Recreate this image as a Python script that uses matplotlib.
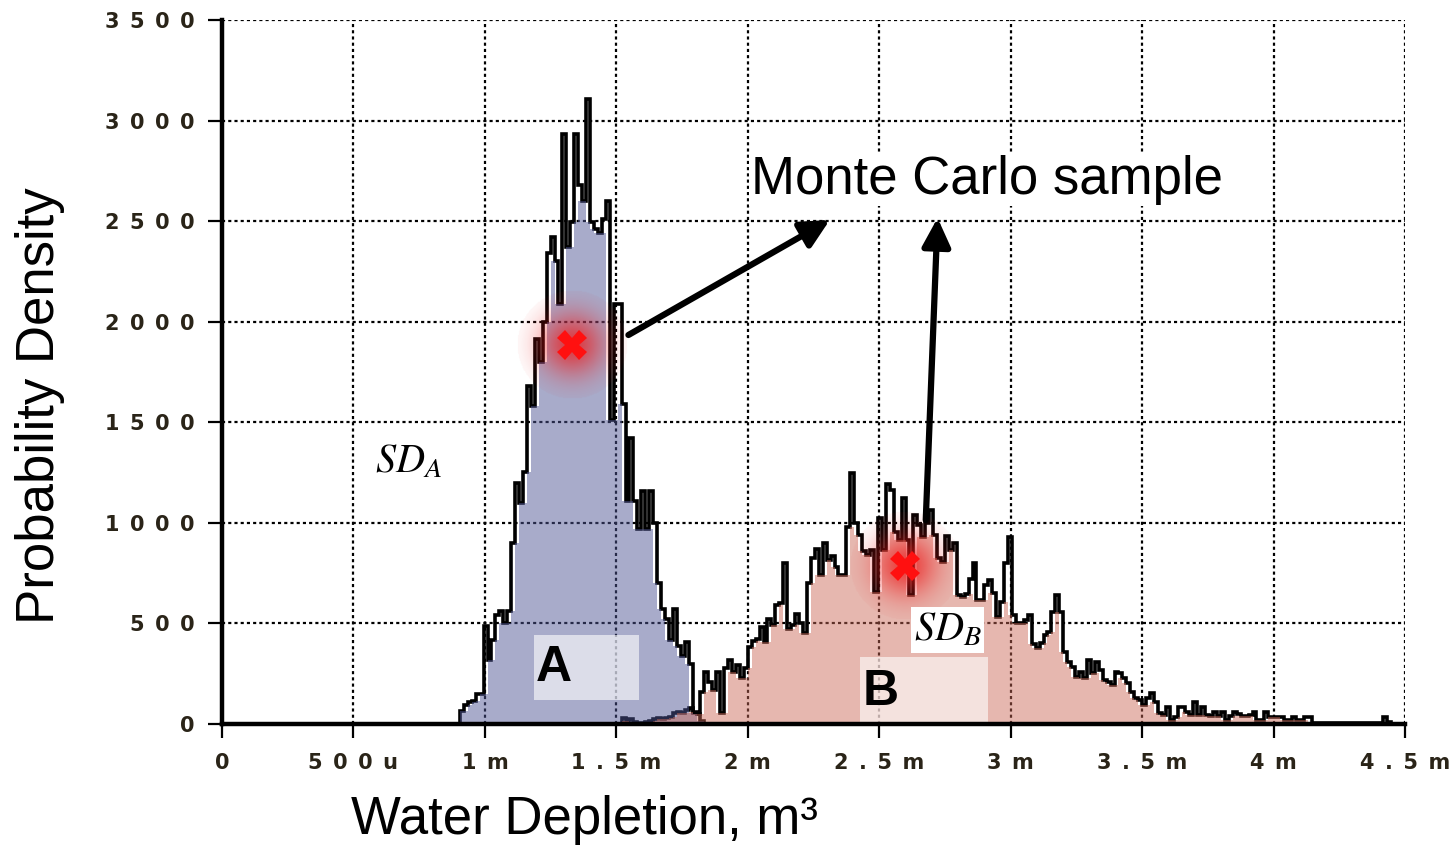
import numpy as np
import matplotlib
matplotlib.use("Agg")
import matplotlib.pyplot as plt

# ---------------------------------------------------------------
# Monte Carlo histograms of water depletion (m^3) for scenarios A and B
# ---------------------------------------------------------------
bin_width = 0.015e-3          # m^3
a_start = 0.905e-3            # first bin edge of scenario A
b_start = 1.520e-3            # first bin edge of scenario B

a_density = [
    65, 95, 110, 115, 150, 150, 485, 320, 420, 540,
    560, 500, 560, 900, 1200, 1100, 1255, 1680, 1580, 1915,
    1800, 2000, 2340, 2420, 2300, 2090, 2935, 2370, 2495, 2935,
    2680, 2600, 3105, 2495, 2460, 2440, 2510, 2600, 1510, 2090,
    2090, 1590, 1110, 1420, 1110, 970, 1160, 970, 1160, 1000,
    700, 570, 520, 420, 570, 390, 340, 410, 300, 55,
    50, 15,
]

b_density = [
    30, 15, 25, 10, 5, 5, 10, 15, 25, 30,
    25, 30, 35, 55, 60, 55, 70, 80, 60, 50,
    160, 260, 210, 170, 260, 53, 277, 318, 260, 293,
    227, 277, 384, 415, 425, 480, 410, 520, 492, 590,
    600, 800, 470, 490, 547, 500, 450, 700, 823, 868,
    740, 898, 815, 835, 782, 740, 740, 980, 1246, 1000,
    940, 860, 840, 865, 658, 1022, 865, 1193, 1163, 956,
    915, 1122, 915, 640, 1039, 989, 930, 1000, 1064, 940,
    823, 807, 935, 865, 898, 641, 633, 645, 720, 799,
    616, 616, 690, 716, 650, 534, 608, 799, 930, 542,
    500, 500, 517, 542, 400, 376, 401, 442, 459, 558,
    641, 558, 360, 310, 285, 235, 260, 227, 318, 255,
    310, 268, 219, 210, 194, 260, 252, 230, 205, 161,
    128, 119, 94, 128, 156, 111, 53, 45, 86, 20,
    36, 86, 86, 61, 45, 111, 45, 86, 45, 40,
    61, 40, 61, 20, 40, 61, 50, 40, 40, 45,
    61, 20, 20, 61, 36, 36, 36, 36, 20, 20,
    36, 20, 20, 36, 36, 4, 4, 4, 4, 4,
    4, 4, 4, 4, 4, 4, 4, 4, 4, 4,
    4, 4, 4, 36, 8,
]

# highlighted Monte Carlo samples (depletion, density)
sample_x = [1.332e-3, 2.597e-3]
sample_y = [1885, 786]

x_ticks = [0, 0.5e-3, 1.0e-3, 1.5e-3, 2.0e-3, 2.5e-3, 3.0e-3, 3.5e-3, 4.0e-3, 4.5e-3]
x_tick_labels = ["0", "500u", "1m", "1.5m", "2m", "2.5m", "3m", "3.5m", "4m", "4.5m"]
y_ticks = [0, 500, 1000, 1500, 2000, 2500, 3000, 3500]

# ---------------------------------------------------------------
plt.rcParams["mathtext.fontset"] = "stix"

fig = plt.figure(figsize=(14.54, 8.48), dpi=100)
ax = fig.add_axes([222 / 1454, 1 - 724 / 848, (1405 - 222) / 1454, (724 - 20) / 848])


def edges(start, values):
    return start + bin_width * np.arange(len(values) + 1)


def lower_envelope(values):
    v = np.asarray(values, float)
    p = np.pad(v, 1, mode="edge")
    return np.minimum(np.minimum(p[:-2], p[1:-1]), p[2:])


hists = [
    (a_start, a_density, "#4e5594", 0.49),
    (b_start, b_density, "#ca6756", 0.47),
]
for start, dens, col, alpha in hists:
    e = edges(start, dens)
    ax.stairs(dens, e, color="black", lw=2.6, baseline=0, zorder=2)
for start, dens, col, alpha in hists:
    e = edges(start, dens)
    ax.stairs(lower_envelope(dens), e, fill=True, color=col, alpha=alpha,
              lw=0, zorder=3)


# red halo around the highlighted samples
def halo(x, y, rx, ry):
    n = 121
    g = np.linspace(-1, 1, n)
    X, Y = np.meshgrid(g, g)
    r2 = X ** 2 + Y ** 2
    img = np.zeros((n, n, 4))
    img[..., 0] = 0.93
    img[..., 1] = 0.10
    img[..., 2] = 0.10
    img[..., 3] = 0.75 * np.exp(-r2 / 0.33) * (r2 < 1)
    ax.imshow(img, extent=(x - rx, x + rx, y - ry, y + ry), aspect="auto",
              interpolation="bilinear", zorder=5)


for sx, sy in zip(sample_x, sample_y):
    halo(sx, sy, 0.21e-3, 270)
ax.plot(sample_x, sample_y, "X", color="#ff1010", ms=21, mew=0, zorder=7)

# scenario labels
ax.add_patch(plt.Rectangle((1.187e-3, 119), 0.399e-3, 324, fc="white",
                           alpha=0.6, ec="none", zorder=4))
ax.text(1.195e-3, 280, "A", fontsize=36, fontweight="bold",
        family="Liberation Sans", ha="left", va="center", zorder=5)
ax.add_patch(plt.Rectangle((2.426e-3, 10), 0.486e-3, 323, fc="white",
                           alpha=0.6, ec="none", zorder=4))
ax.text(2.437e-3, 160, "B", fontsize=36, fontweight="bold",
        family="Liberation Sans", ha="left", va="center", zorder=5)

ax.text(0.71e-3, 1305, r"$SD_A$", fontsize=29, ha="center", va="center",
        zorder=5)
ax.text(2.76e-3, 467, r"$SD_B$", fontsize=29, ha="center", va="center",
        zorder=6, bbox=dict(fc="white", ec="none", pad=2))

# callout
ax.text(2.909e-3, 2705, "Monte Carlo sample", fontsize=38,
        family="Liberation Sans", ha="center", va="center", zorder=9,
        bbox=dict(fc="white", ec="none", pad=1))
arrow = dict(arrowstyle="-|>,head_length=0.9,head_width=0.45", lw=4.5,
             color="black", shrinkA=0, shrinkB=0, mutation_scale=19)
ax.annotate("", xy=(2.312e-3, 2506), xytext=(1.546e-3, 1934),
            arrowprops=arrow, zorder=8)
ax.annotate("", xy=(2.722e-3, 2516), xytext=(2.677e-3, 1014),
            arrowprops=arrow, zorder=8)

# axes styling
ax.set_xlim(0, 4.5e-3)
ax.set_ylim(0, 3500)
ax.set_axisbelow(True)
ax.grid(True, color="black", lw=1.6, linestyle=(0, (1.4, 1.4)))
for s in ("top", "right"):
    ax.spines[s].set_visible(False)
for s in ("left", "bottom"):
    ax.spines[s].set_linewidth(3.2)
    ax.spines[s].set_zorder(6)

sp = "\u2002"
ax.set_xticks(x_ticks)
ax.set_xticklabels([sp.join(t) for t in x_tick_labels])
ax.set_yticks(y_ticks)
ax.set_yticklabels([sp.join(str(t)) for t in y_ticks])
ax.tick_params(axis="both", direction="out", length=10, width=1.6,
               colors="black")
ax.tick_params(axis="y", pad=10)
ax.tick_params(axis="x", pad=11)
for lab in ax.get_xticklabels() + ax.get_yticklabels():
    lab.set_fontweight("bold")
    lab.set_family("DejaVu Sans")
    lab.set_fontsize(15)
    lab.set_color("#2a2418")

fig.text(40 / 1454, 1 - 406 / 848, "Probability Density", rotation=90,
         fontsize=38, family="Liberation Sans", ha="center", va="center")
fig.text(584 / 1454, 1 - 820 / 848, "Water Depletion, m\u00b3", fontsize=38,
         family="Liberation Sans", ha="center", va="center")

fig.savefig("out.png", dpi=100)
